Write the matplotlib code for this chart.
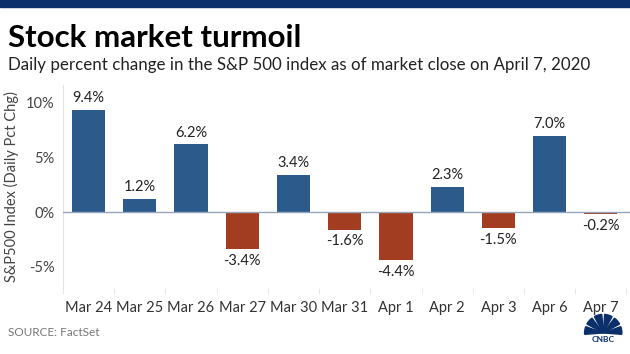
import matplotlib.pyplot as plt
from matplotlib.patches import Wedge, Rectangle
import numpy as np

# Data
dates = ["Mar 24", "Mar 25", "Mar 26", "Mar 27", "Mar 30", "Mar 31",
         "Apr 1", "Apr 2", "Apr 3", "Apr 6", "Apr 7"]
pct_change = [9.4, 1.2, 6.2, -3.4, 3.4, -1.6, -4.4, 2.3, -1.5, 7.0, -0.2]
yticks = [-5, 0, 5, 10]

blue = "#2c5a8a"
red = "#a33d22"
navy = "#0b2f6b"

plt.rcParams['font.family'] = ['Lato', 'DejaVu Sans']

fig = plt.figure(figsize=(6.3, 3.54), dpi=100)
fig.patch.set_facecolor("white")

# Top band
fig.add_artist(Rectangle((0, 1 - 7/354), 1, 7/354, transform=fig.transFigure,
                         color=navy, zorder=5))

fig.text(0.012, 0.893, "Stock market turmoil", fontsize=22.5, fontweight="bold",
         color="black", va="center")
fig.text(0.012, 0.815, "Daily percent change in the S&P 500 index as of market close on April 7, 2020",
         fontsize=12.2, color="#222222", va="center")
fig.text(0.012, 0.06, "SOURCE: FactSet", fontsize=8.5, color="#777777", va="center")

ax = fig.add_axes([0.1, 0.186, 0.9, 0.574])
x = np.arange(len(dates))
colors = [blue if v >= 0 else red for v in pct_change]
ax.bar(x, pct_change, width=0.65, color=colors, zorder=2)
ax.axhline(0, color="#95a5ba", lw=1, zorder=3)

for xi, v in zip(x, pct_change):
    if v >= 0:
        ax.text(xi, v + 0.45, f"{v:.1f}%", ha="center", va="bottom", fontsize=10.5, color="#222222")
    else:
        ax.text(xi, v - 0.45, f"{v:.1f}%", ha="center", va="top", fontsize=10.5, color="#222222")

ax.set_xlim(-0.5, 10.57)
ax.set_ylim(-6.97, 11.65)
ax.set_yticks(yticks)
ax.set_yticklabels([f"{t}%" for t in yticks])
ax.set_xticks(x)
ax.set_xticklabels(dates)
ax.set_xticks(np.arange(-0.5, 10.6, 1), minor=True)
ax.tick_params(axis="x", which="major", length=0, labelsize=10.5, labelcolor="#333333", pad=9)
ax.tick_params(axis="x", which="minor", length=4, color="#e3e3e3", direction="out")
ax.tick_params(axis="y", length=0, labelsize=10.5, labelcolor="#444444", pad=6)
for s in ["top", "right", "bottom"]:
    ax.spines[s].set_visible(False)
ax.spines["left"].set_color("#e3e3e3")
ax.set_ylabel("S&P500 Index (Daily Pct Chg)", fontsize=10.5, color="#444444", labelpad=5)

# CNBC logo (simple peacock)
lax = fig.add_axes([0.925, 0.02, 0.065, 0.105])
lax.set_xlim(-1.1, 1.1)
lax.set_ylim(-0.6, 1.1)
lax.set_aspect("equal")
lax.axis("off")
for a in np.linspace(8, 172, 6):
    lax.add_patch(Wedge((0, 0), 1.0, a - 12, a + 12, color=navy))
lax.text(0, -0.35, "CNBC", ha="center", va="center", fontsize=6, fontweight="bold", color=navy)

fig.savefig("out.png", dpi=100)
